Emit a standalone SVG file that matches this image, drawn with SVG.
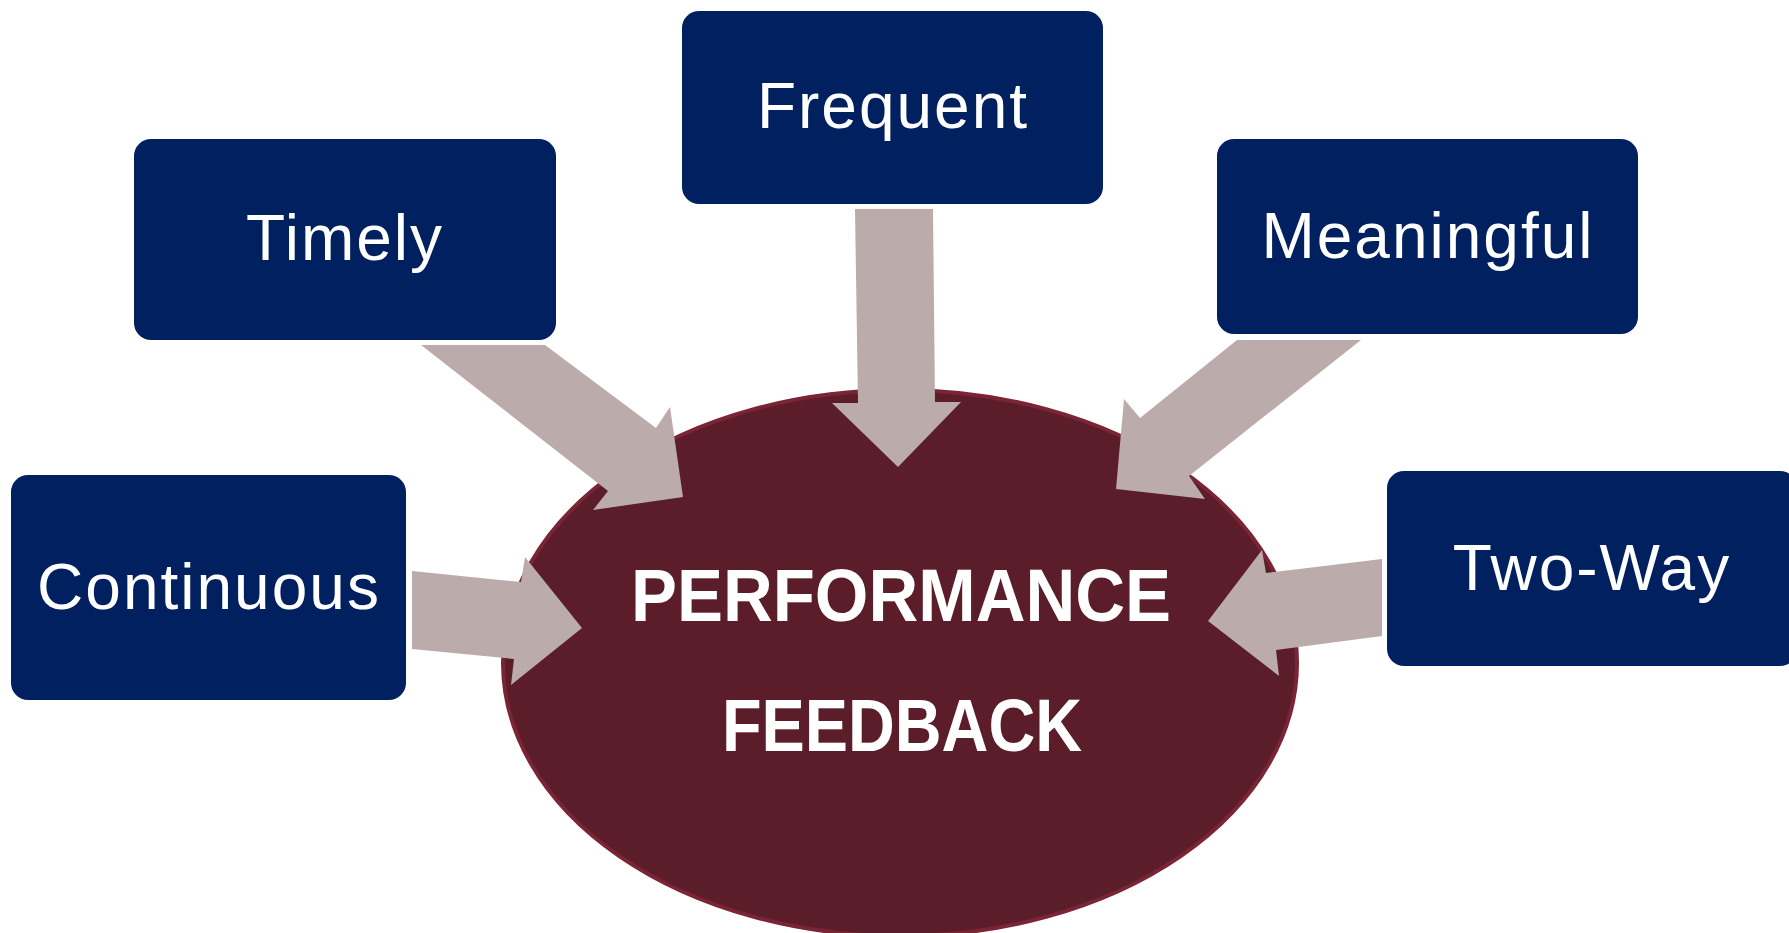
<svg xmlns="http://www.w3.org/2000/svg" width="1789" height="933" viewBox="0 0 1789 933">
<style>
.box{fill:#002060;}
.lbl{fill:#ffffff;font-family:"Liberation Sans",Arial,sans-serif;font-size:64px;letter-spacing:2px;text-anchor:middle;}
.arrow{fill:#BBABAB;}
.title{fill:#ffffff;font-family:"Liberation Sans",Arial,sans-serif;font-size:75px;font-weight:bold;text-anchor:middle;}
</style>
<rect width="1789" height="933" fill="#ffffff"/>
<g id="center">
<ellipse cx="900" cy="663" rx="397" ry="273" fill="#5A1D29" stroke="#7A2436" stroke-width="4"/>
<text class="title" x="901" y="621" textLength="540" lengthAdjust="spacingAndGlyphs">PERFORMANCE</text>
<text class="title" x="902" y="751" textLength="360" lengthAdjust="spacingAndGlyphs">FEEDBACK</text>
</g>
<g id="frequent">
<rect class="box" x="682" y="11" width="421" height="193" rx="17"/>
<text class="lbl" x="893" y="128">Frequent</text>
</g>
<g id="timely">
<rect class="box" x="134" y="139" width="422" height="201" rx="17"/>
<text class="lbl" x="345" y="260">Timely</text>
</g>
<g id="meaningful">
<rect class="box" x="1217" y="139" width="421" height="195" rx="17"/>
<text class="lbl" x="1428" y="258">Meaningful</text>
</g>
<g id="continuous">
<rect class="box" x="11" y="475" width="395" height="225" rx="17"/>
<text class="lbl" x="209" y="609">Continuous</text>
</g>
<g id="two-way">
<rect class="box" x="1387" y="471" width="410" height="195" rx="17"/>
<text class="lbl" x="1592" y="590">Two-Way</text>
</g>
<g id="connectors">
<polygon class="arrow" points="855,209 933,209 935,402 961,402 898,467 832,403 858,403"/>
<polygon class="arrow" points="421,345 545,345 656,428 670,407 683,497 593,510 608,491"/>
<polygon class="arrow" points="1237,340 1361,340 1189,476 1205,499 1116,489 1124,399 1140,418"/>
<polygon class="arrow" points="412,571 521,582 525,557 582,628 511,685 514,659 412,649"/>
<polygon class="arrow" points="1382,559 1382,636 1276,650 1279,676 1208,621 1262,550 1266,573"/>
</g>
</svg>
